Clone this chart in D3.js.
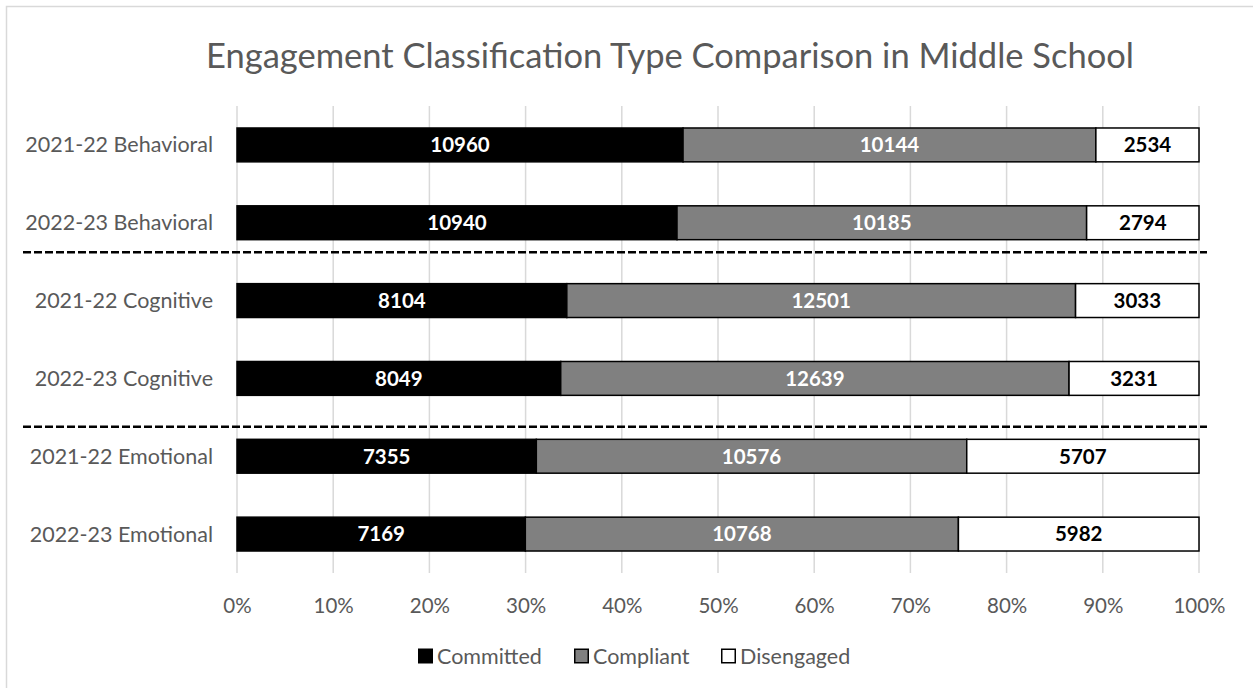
<!DOCTYPE html>
<html>
<head>
<meta charset="utf-8">
<script src="https://cdn.jsdelivr.net/npm/d3@7"></script>
<style>
    body { margin: 0; background: #fff; }
    text { font-family: Lato, "Open Sans", sans-serif; }
</style>
</head>
<body>
<div id="chart"></div>
<script>
// engagement data, one entry per row
var categories = ["2021-22 Behavioral", "2022-23 Behavioral", "2021-22 Cognitive",
    "2022-23 Cognitive", "2021-22 Emotional", "2022-23 Emotional"];
var committed = [10960, 10940, 8104, 8049, 7355, 7169];
var compliant = [10144, 10185, 12501, 12639, 10576, 10768];
var disengaged = [2534, 2794, 3033, 3231, 5707, 5982];
var seriesNames = ["Committed", "Compliant", "Disengaged"];
var xTicks = [0, 0.1, 0.2, 0.3, 0.4, 0.5, 0.6, 0.7, 0.8, 0.9, 1];
// separators sit between the groups (in row units)
var separators = [1.88, 4.12];

var width = 1253, height = 688;
var margin = {top: 106, right: 54, bottom: 115, left: 237};

var svg = d3.select("#chart").append("svg")
    .attr("width", width)
    .attr("height", height);

// outer chart border (only top and left show in the frame)
svg.append("rect")
    .attr("x", 6.5).attr("y", 6.5)
    .attr("width", 1400).attr("height", 900)
    .attr("fill", "none")
    .attr("stroke", "#d9d9d9")
    .attr("stroke-width", 1.5);

svg.append("text")
    .attr("x", 670)
    .attr("y", 68)
    .attr("text-anchor", "middle")
    .attr("fill", "#595959")
    .style("font-size", "34.5px")
    .text("Engagement Classification Type Comparison in Middle School");

var rows = categories.map(function(c, i) {
    return {name: c, Committed: committed[i], Compliant: compliant[i], Disengaged: disengaged[i]};
});

var x = d3.scaleLinear()
    .domain([0, 1])
    .range([margin.left, width - margin.right]);

var y = d3.scaleBand()
    .domain(categories)
    .range([margin.top, height - margin.bottom])
    .paddingInner(0.565)
    .paddingOuter(0.2825);

var rowPos = d3.scaleLinear()
    .domain([0, categories.length])
    .range([margin.top, height - margin.bottom]);

var fills = {Committed: "#000000", Compliant: "#808080", Disengaged: "#ffffff"};
var labelColors = {Committed: "#ffffff", Compliant: "#ffffff", Disengaged: "#000000"};

// vertical gridlines
svg.append("g")
    .selectAll("line")
    .data(xTicks)
    .enter()
    .append("line")
    .attr("x1", function(d) { return x(d); })
    .attr("x2", function(d) { return x(d); })
    .attr("y1", margin.top)
    .attr("y2", height - margin.bottom)
    .attr("stroke", "#d9d9d9")
    .attr("stroke-width", 1.5);

// x axis labels
var xAxis = d3.axisBottom(x)
    .tickValues(xTicks)
    .tickFormat(d3.format(".0%"))
    .tickSize(0)
    .tickPadding(0);

svg.append("g")
    .attr("transform", "translate(0," + (height - margin.bottom + 25) + ")")
    .call(xAxis)
    .call(function(g) { g.select(".domain").remove(); })
    .selectAll("text")
    .attr("fill", "#595959")
    .style("font-size", "20.5px");

// y axis labels
var yAxis = d3.axisLeft(y).tickSize(0).tickPadding(24);
svg.append("g")
    .attr("transform", "translate(" + margin.left + ",0)")
    .call(yAxis)
    .call(function(g) { g.select(".domain").remove(); })
    .selectAll("text")
    .attr("fill", "#595959")
    .attr("dy", "0.35em")
    .style("font-size", "21.5px");

var stack = d3.stack()
    .keys(seriesNames)
    .offset(d3.stackOffsetExpand);
var stacked = stack(rows);

var groups = svg.selectAll(".series")
    .data(stacked)
    .enter()
    .append("g")
    .attr("class", "series");

groups.selectAll("rect")
    .data(function(s) { return s.map(function(d) { return {key: s.key, d: d}; }); })
    .enter()
    .append("rect")
    .attr("x", function(p) { return x(p.d[0]); })
    .attr("y", function(p) { return y(p.d.data.name); })
    .attr("width", function(p) { return x(p.d[1]) - x(p.d[0]); })
    .attr("height", y.bandwidth())
    .attr("fill", function(p) { return fills[p.key]; })
    .attr("stroke", "#000")
    .attr("stroke-width", 1.5);

groups.selectAll("text")
    .data(function(s) { return s.map(function(d) { return {key: s.key, d: d}; }); })
    .enter()
    .append("text")
    .attr("x", function(p) { return (x(p.d[0]) + x(p.d[1])) / 2; })
    .attr("y", function(p) { return y(p.d.data.name) + y.bandwidth() / 2; })
    .attr("dy", "0.36em")
    .attr("text-anchor", "middle")
    .attr("fill", function(p) { return labelColors[p.key]; })
    .style("font-size", "20.5px")
    .style("font-weight", "bold")
    .text(function(p) { return p.d.data[p.key]; });

// dashed separators between groups
svg.selectAll(".sep")
    .data(separators)
    .enter()
    .append("line")
    .attr("class", "sep")
    .attr("x1", 23)
    .attr("x2", 1207)
    .attr("y1", function(d) { return rowPos(d); })
    .attr("y2", function(d) { return rowPos(d); })
    .attr("stroke", "#000")
    .attr("stroke-width", 2.5)
    .attr("stroke-dasharray", "8,3");

// legend
var legendX = [418, 574, 721];
var legend = svg.selectAll(".legend")
    .data(seriesNames)
    .enter()
    .append("g")
    .attr("class", "legend")
    .attr("transform", function(d, i) { return "translate(" + legendX[i] + ",656)"; });

legend.append("rect")
    .attr("x", 0.75)
    .attr("y", -6.75)
    .attr("width", 13.5)
    .attr("height", 13.5)
    .attr("fill", function(d) { return fills[d]; })
    .attr("stroke", "#000")
    .attr("stroke-width", 1.5);

legend.append("text")
    .attr("x", 19)
    .attr("dy", "0.35em")
    .attr("fill", "#595959")
    .style("font-size", "21.5px")
    .text(function(d) { return d; });
</script>
</body>
</html>
